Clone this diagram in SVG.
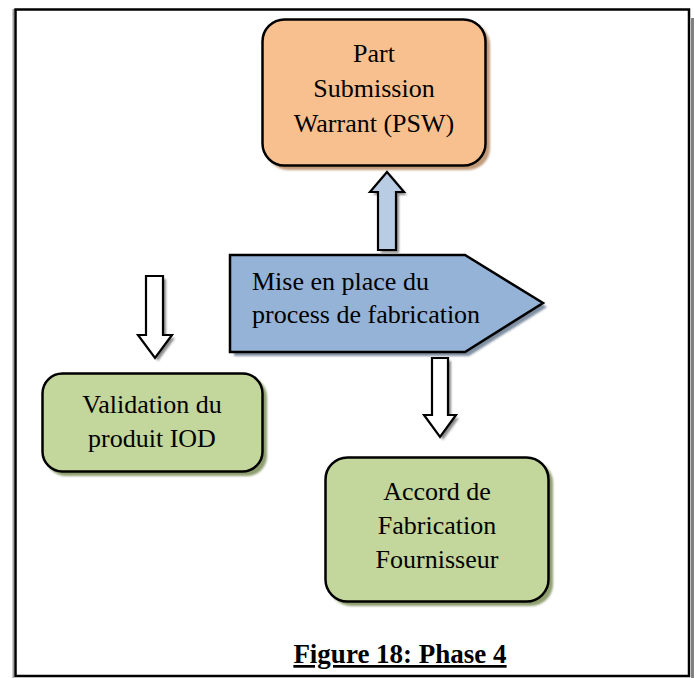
<svg xmlns="http://www.w3.org/2000/svg" width="694" height="678" viewBox="0 0 694 678">
  <style>
    .lbl { font-family: "Liberation Serif", "Times New Roman", serif; font-size: 26px; fill: #000; text-anchor: middle; }
    .box { stroke: #000; stroke-width: 2.5; }
    .arw { stroke: #000; stroke-width: 2.2; stroke-linejoin: miter; }
    .cap { font-family: "Liberation Serif", "Times New Roman", serif; font-size: 27px; font-weight: bold; text-decoration: underline; text-anchor: middle; }
  </style>
  <defs>
    <filter id="soft" x="-10%" y="-10%" width="130%" height="130%">
      <feGaussianBlur stdDeviation="1"/>
    </filter>
  </defs>

  <rect width="694" height="678" fill="#fff"/>
  <!-- page frame -->
  <rect x="691" y="18" width="3" height="660" fill="#808080"/>
  <rect x="12.5" y="9" width="1.5" height="669" fill="#a0a0a0"/>
  <rect x="15.5" y="9.5" width="673.5" height="666.5" fill="none" stroke="#000" stroke-width="2.5"/>

  <!-- Part Submission Warrant -->
  <g id="psw">
    <rect x="266" y="23" width="224" height="147" rx="22" fill="#c19a78" filter="url(#soft)"/>
    <rect x="262.5" y="19.5" width="223" height="146" rx="22" fill="#f9c08f" class="box"/>
    <text class="lbl" x="374" y="62">Part</text>
    <text class="lbl" x="374" y="97">Submission</text>
    <text class="lbl" x="374" y="132">Warrant (PSW)</text>
  </g>

  <!-- Mise en place du process -->
  <g id="process">
    <polygon points="234,259 469,259 547,307 469,356 234,356" fill="#7f8fa3" filter="url(#soft)"/>
    <polygon points="230,255 465,255 543,303 465,352 230,352" fill="#95b3d7" class="box"/>
    <text class="lbl" x="252" y="290" style="text-anchor:start">Mise en place du</text>
    <text class="lbl" x="252" y="323" style="text-anchor:start">process de fabrication</text>
  </g>

  <!-- Validation du produit IOD -->
  <g id="validation">
    <rect x="46" y="377" width="221" height="99" rx="20" fill="#8f9f70" filter="url(#soft)"/>
    <rect x="42.5" y="373.5" width="220" height="98" rx="20" fill="#c3d69b" class="box"/>
    <text class="lbl" x="152" y="413">Validation du</text>
    <text class="lbl" x="152" y="447">produit IOD</text>
  </g>

  <!-- Accord de Fabrication Fournisseur -->
  <g id="accord">
    <rect x="329" y="461" width="224" height="145" rx="22" fill="#8f9f70" filter="url(#soft)"/>
    <rect x="325.5" y="457.5" width="223" height="144" rx="22" fill="#c3d69b" class="box"/>
    <text class="lbl" x="437" y="500">Accord de</text>
    <text class="lbl" x="437" y="534">Fabrication</text>
    <text class="lbl" x="437" y="568">Fournisseur</text>
  </g>

  <!-- block arrows -->
  <g id="connectors">
    <!-- up to PSW -->
    <polygon points="390,175 407,195 399,195 399,253 381,253 381,195 373,195" fill="#8a8a8a" filter="url(#soft)"/>
    <polygon points="387,172 404,192 396,192 396,250 378,250 378,192 370,192" fill="#b8cce4" class="arw"/>
    <!-- down to Validation -->
    <polygon points="149,279 166,279 166,338 175,338 158,361 141,338 149,338" fill="#8a8a8a" filter="url(#soft)"/>
    <polygon points="146,276 163,276 163,335 172,335 155,358 138,335 146,335" fill="#fff" class="arw"/>
    <!-- down to Accord -->
    <polygon points="435,361 451,361 451,418 459,418 443,440 427,418 435,418" fill="#8a8a8a" filter="url(#soft)"/>
    <polygon points="432,358 448,358 448,415 456,415 440,437 424,415 432,415" fill="#fff" class="arw"/>
  </g>

  <text class="cap" x="400" y="663">Figure 18: Phase 4</text>
</svg>
